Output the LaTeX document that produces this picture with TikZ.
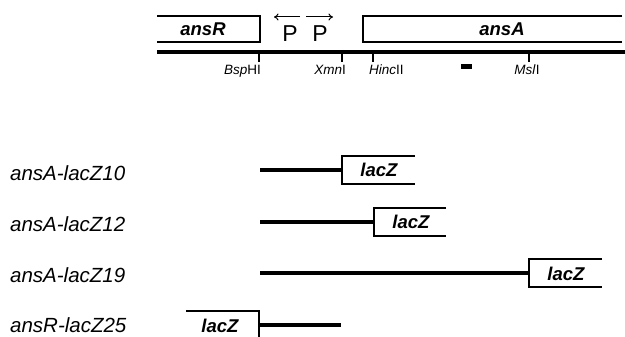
\documentclass[tikz,border=0pt]{standalone}
\usepackage{fontspec}
\setmainfont{Liberation Sans}
\usetikzlibrary{arrows.meta}
\begin{document}
\begin{tikzpicture}[x=1pt,y=-1pt,
  mapline/.style={line width=3.2pt},
  geneline/.style={line width=1.3pt},
  cutline/.style={line width=1.2pt},
  fragline/.style={line width=3.2pt},
  genelabel/.style={font=\fontsize{18.5}{20}\selectfont\bfseries\itshape, anchor=base, inner sep=0pt},
  sitelabel/.style={font=\fontsize{13.5}{15}\selectfont, inner sep=0pt},
  fusionlabel/.style={font=\fontsize{20.5}{22}\selectfont\itshape, anchor=base west, inner sep=0pt},
  promoter/.style={font=\fontsize{23}{25}\selectfont, anchor=base, inner sep=0pt},
  parrow/.style={line width=1pt, -{To[length=4.5pt,width=7pt]}}
]
\useasboundingbox (0,0) rectangle (625,337);

% ---- physical map ----
\coordinate (mapL) at (157,52);
\coordinate (mapR) at (625,52);
\draw[mapline] (mapL) -- (mapR);

% ansR (open on the left)
\draw[geneline] (157,16) -- (260,16) -- (260,42) -- (157,42);
\node[genelabel] (ansR) at (203,36) {ansR};
% ansA (open on the right)
\draw[geneline] (622,16) -- (363,16) -- (363,42) -- (622,42);
\node[genelabel] (ansA) at (502,36) {ansA};

% promoters
\node[promoter] (P1) at (290,42) {P};
\node[promoter] (P2) at (320,42) {P};
\coordinate (p1s) at (300,17); \coordinate (p1e) at (274,17);
\coordinate (p2s) at (306,17); \coordinate (p2e) at (333,17);
\draw[parrow] (p1s) -- (p1e);
\draw[parrow] (p2s) -- (p2e);

% restriction sites
\foreach \nm/\xx in {bsp/259, xmn/342, hinc/373, msl/529}{
  \coordinate (\nm top) at (\xx,52);
  \coordinate (\nm bot) at (\xx,62);
  \draw[cutline] (\nm top) -- (\nm bot);
}
\node[sitelabel, anchor=base east] (bspL) at (261,75) {\textit{Bsp}HI};
\node[sitelabel, anchor=base east] (xmnL) at (346,75) {\textit{Xmn}I};
\node[sitelabel, anchor=base west] (hincL) at (369,75) {\textit{Hinc}II};
\node[sitelabel, anchor=base] (mslL) at (527,75) {\textit{Msl}I};

% probe
\fill (461,64) rectangle (472,69);

% ---- lacZ fusions ----
\node[fusionlabel] (f10) at (10,180) {ansA-lacZ10};
\node[fusionlabel] (f12) at (10,231) {ansA-lacZ12};
\node[fusionlabel] (f19) at (10,282) {ansA-lacZ19};
\node[fusionlabel] (f25) at (10,332) {ansR-lacZ25};

% ansA-lacZ10
\coordinate (a10) at (260,170); \coordinate (b10) at (342,170);
\draw[fragline] (a10) -- (b10);
\draw[geneline] (415,156) -- (342,156) -- (342,184) -- (415,184);
\node[genelabel] (z10) at (379,177) {lacZ};

% ansA-lacZ12
\coordinate (a12) at (260,222); \coordinate (b12) at (374,222);
\draw[fragline] (a12) -- (b12);
\draw[geneline] (446,208) -- (374,208) -- (374,236) -- (446,236);
\node[genelabel] (z12) at (411,229) {lacZ};

% ansA-lacZ19
\coordinate (a19) at (260,273); \coordinate (b19) at (529,273);
\draw[fragline] (a19) -- (b19);
\draw[geneline] (602,259) -- (529,259) -- (529,287) -- (602,287);
\node[genelabel] (z19) at (566,280) {lacZ};

% ansR-lacZ25
\coordinate (a25) at (259,325); \coordinate (b25) at (341,325);
\draw[fragline] (a25) -- (b25);
\draw[geneline] (186,311) -- (259,311) -- (259,340);
\node[genelabel] (z25) at (220,332) {lacZ};
\end{tikzpicture}
\end{document}
